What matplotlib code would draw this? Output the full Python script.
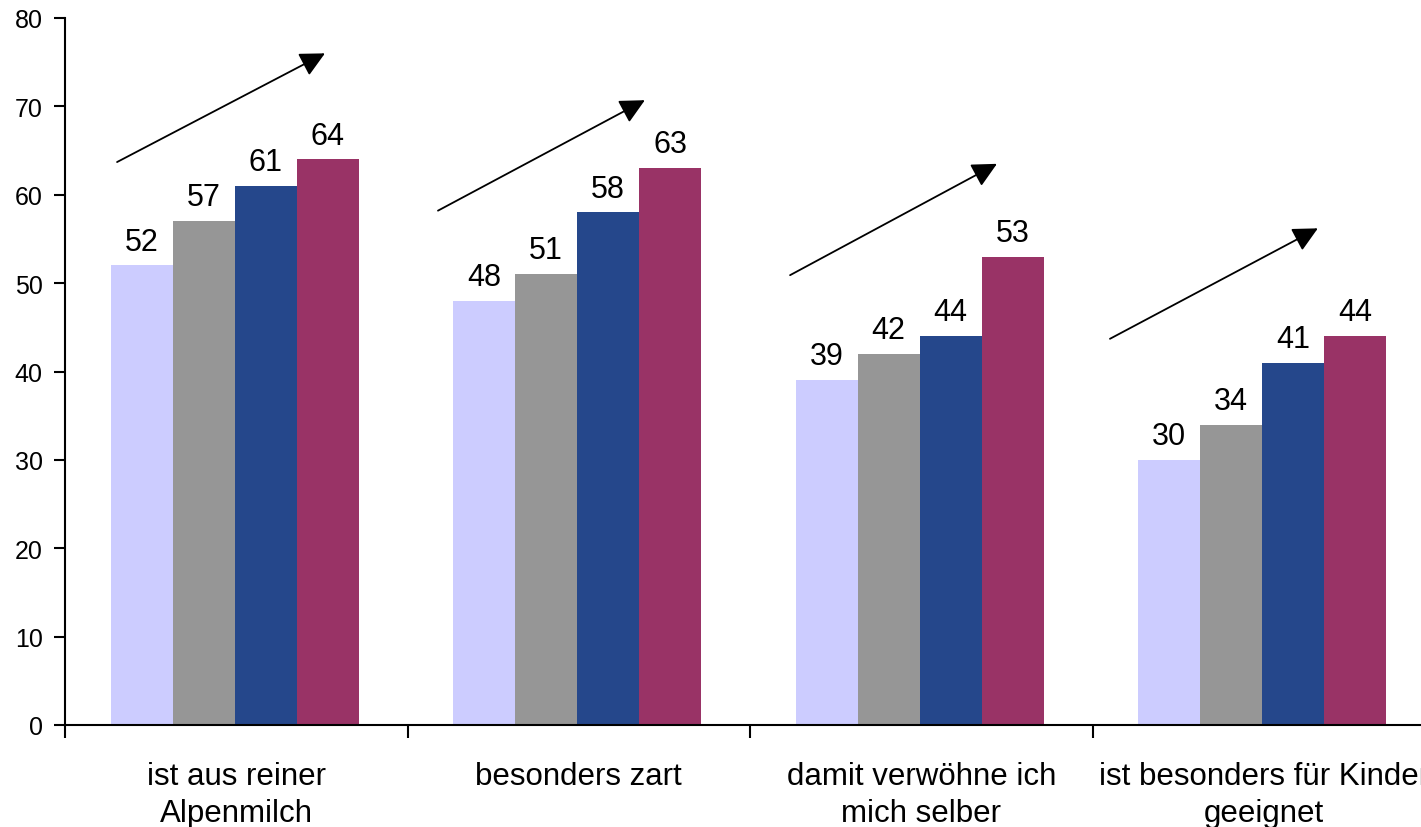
import matplotlib.pyplot as plt
import numpy as np

# category labels and values per wave
categories = ["ist aus reiner\nAlpenmilch", "besonders zart",
              "damit verwöhne ich\nmich selber", "ist besonders für Kinder\ngeeignet"]
wave1 = [52, 48, 39, 30]
wave2 = [57, 51, 42, 34]
wave3 = [61, 58, 44, 41]
wave4 = [64, 63, 53, 44]
series = [wave1, wave2, wave3, wave4]
colors = ["#CCCCFF", "#969696", "#25478B", "#993366"]

# trend arrows drawn over each group
arrow_start_x = [-0.348, 0.589, 1.617, 2.551]
arrow_start_y = [63.7, 58.2, 50.9, 43.7]
arrow_end_x = [0.259, 1.193, 2.221, 3.158]
arrow_end_y = [76.0, 70.7, 63.5, 56.2]

plt.rcParams["font.family"] = ["Liberation Sans", "DejaVu Sans"]

fig = plt.figure(figsize=(14.21, 8.28), dpi=100)
ax = fig.add_axes([65 / 1421, 102 / 828, 1370 / 1421, 707 / 828])

x = np.arange(len(categories))
width = 0.181
for i, (vals, col) in enumerate(zip(series, colors)):
    pos = x + (i - 1.5) * width - 0.005
    ax.bar(pos, vals, width=width, color=col, linewidth=0)
    for px, v in zip(pos, vals):
        ax.text(px, v + 1.0, str(v), ha="center", va="bottom", fontsize=22)

for i in range(len(categories)):
    ax.annotate("", xy=(arrow_end_x[i], arrow_end_y[i]),
                xytext=(arrow_start_x[i], arrow_start_y[i]),
                arrowprops=dict(arrowstyle="-|>", color="black", lw=1.3,
                                mutation_scale=38, shrinkA=0, shrinkB=0))

ax.set_xlim(-0.5, len(categories) - 0.5)
ax.set_ylim(0, 80)
ax.set_yticks(range(0, 81, 10))

# category names sit under the groups, short ticks mark the boundaries
ax.set_xticks(x)
ax.set_xticklabels(categories, fontsize=22.5, linespacing=1.32)
ax.set_xticks(np.arange(-0.5, len(categories), 1), minor=True)
ax.tick_params(axis="x", which="major", length=0, pad=26)
ax.tick_params(axis="x", which="minor", length=9, width=1.5, direction="out")
ax.tick_params(axis="y", length=8, width=1.5, direction="out", labelsize=18, pad=8)

for side in ["top", "right"]:
    ax.spines[side].set_visible(False)
for side in ["left", "bottom"]:
    ax.spines[side].set_linewidth(1.5)

fig.savefig("out.png", dpi=100)
